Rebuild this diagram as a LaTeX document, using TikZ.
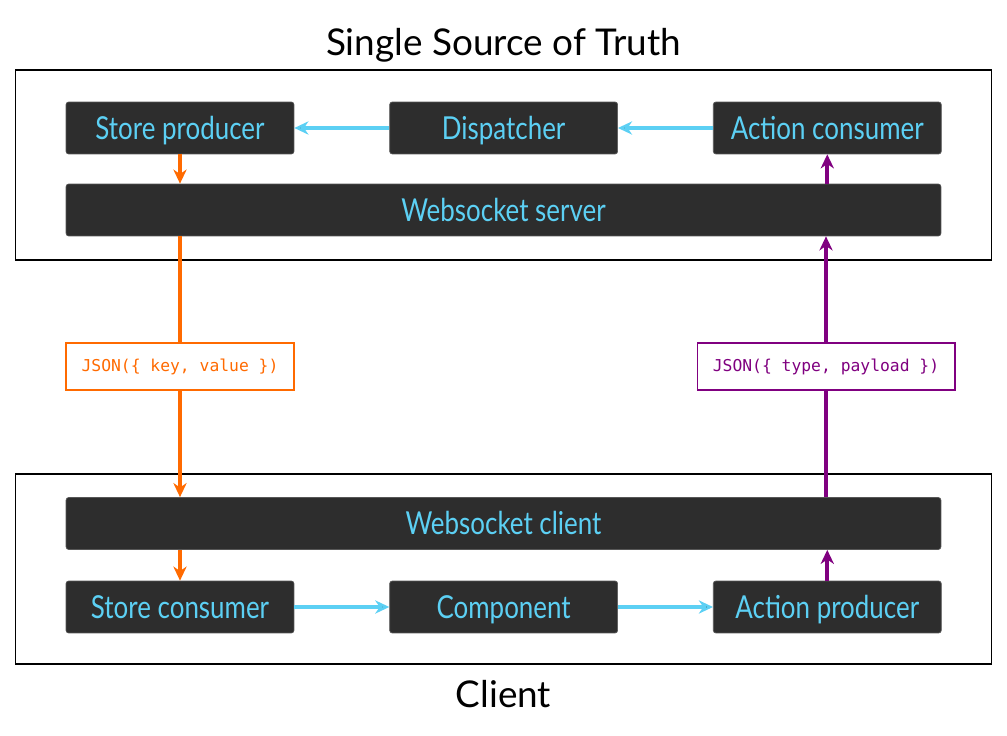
\documentclass[tikz,border=0pt]{standalone}
\usepackage{fontspec}
\setmainfont{Lato}[FakeStretch=0.82]
\newfontfamily\headfont{Lato}
\setmonofont{DejaVu Sans Mono}
\usetikzlibrary{positioning,arrows.meta}

\definecolor{boxgray}{HTML}{2D2D2D}
\definecolor{sky}{HTML}{5CD0F4}
\definecolor{rust}{HTML}{FF6A00}
\definecolor{plum}{HTML}{800080}

\tikzset{
  block/.style={rectangle, rounded corners=1.5pt, fill=boxgray, draw=boxgray!80,
    text=sky, minimum width=4.56cm, minimum height=1.04cm,
    text height=13pt, text depth=0pt, font=\fontsize{18}{18}\selectfont},
  wideblock/.style={block, minimum width=17.5cm},
  frame/.style={draw=black, line width=0.6pt, minimum width=19.54cm, minimum height=3.8cm},
  json/.style={rectangle, fill=white, line width=0.6pt, minimum height=0.94cm,
    font=\ttfamily\fontsize{9.3}{9.3}\selectfont},
  flow/.style={line width=2.2pt, -{Stealth[length=8pt,width=7.5pt,inset=2.5pt]}},
  heading/.style={font=\headfont\fontsize{21}{21}\selectfont}
}

\begin{document}
\begin{tikzpicture}[x=0.02cm, y=-0.02cm, node distance=0.6cm and 1.9cm]
\useasboundingbox (0,0) rectangle (1007,736);

% outer frames
\node [frame] (server) at (503.5,165) {};
\node [frame] (client) at (503.5,569) {};
\node [heading, above=0.02cm of server] (title) {Single Source of Truth};
\node [heading, below=0.2cm of client] (clientlabel) {Client};

% server side
\node [block] (sp) at (180,128) {Store producer};
\node [block] (disp) [right=of sp] {Dispatcher};
\node [block] (ac) [right=of disp] {Action consumer};
\node [wideblock] (wss) at (503.5,210) {Websocket server};

% client side
\node [wideblock] (wsc) at (503.5,523.5) {Websocket client};
\node [block] (sc) at (180,607) {Store consumer};
\node [block] (comp) [right=of sc] {Component};
\node [block] (ap) [right=of comp] {Action producer};

% messages
\node [json, draw=rust, text=rust, minimum width=4.56cm] (kv) at (180,366.5) {JSON(\{ key, value \})};
\node [json, draw=plum, text=plum, minimum width=5.16cm] (tp) at (826,366.5) {JSON(\{ type, payload \})};

\path [flow, draw=sky]
(ac) edge (disp)
(disp) edge (sp)
(sc) edge (comp)
(comp) edge (ap);

\draw [flow, draw=rust] (sp) -- (sp |- wss.north);
\draw [line width=2.2pt, rust] (wss.south -| kv) -- (kv);
\draw [flow, draw=rust] (kv) -- (wsc.north -| kv);
\draw [flow, draw=rust] (wsc.south -| sc) -- (sc);

\draw [flow, draw=plum] (ap) -- (ap |- wsc.south);
\draw [line width=2.2pt, plum] (wsc.north -| tp) -- (tp);
\draw [flow, draw=plum] (tp) -- (wss.south -| tp);
\draw [flow, draw=plum] (wss.north -| ac) -- (ac);
\end{tikzpicture}
\end{document}
